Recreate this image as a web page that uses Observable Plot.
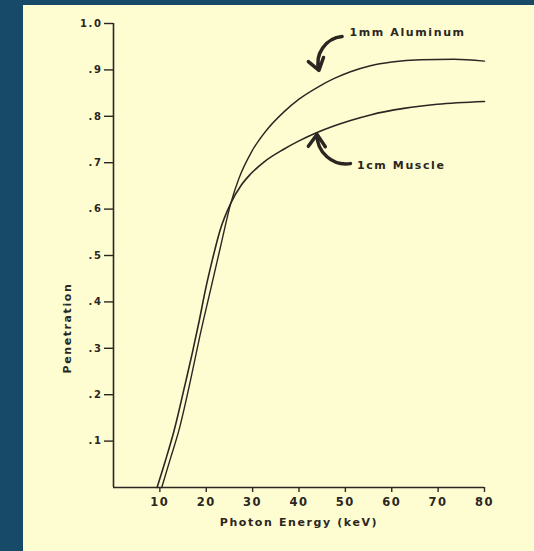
<!DOCTYPE html>
<html><head><meta charset="utf-8">
<script src="https://cdn.jsdelivr.net/npm/d3@7"></script>
<script src="https://cdn.jsdelivr.net/npm/@observablehq/plot@0.6"></script>
<style>
html,body{margin:0;padding:0;background:#164a68;width:534px;height:551px;overflow:hidden}
#panel{position:absolute;left:23px;top:5px;width:511px;height:546px;background:#fefdd1}
#panel svg text{letter-spacing:1.6px}
</style></head><body><div id="panel"></div>
<script>
// 1 mm Aluminum
const alEnergy = [10.4, 12.2, 14.1, 16.6, 18.7, 20.9, 23.1, 25.3, 27.0, 29.8, 33.0, 36.7, 40.0, 43.9, 47.5, 51.1, 55.4, 60.0, 66.2, 73.4, 80.0];
const alPen    = [0, 0.06, 0.123, 0.231, 0.33, 0.425, 0.52, 0.613, 0.665, 0.724, 0.770, 0.809, 0.837, 0.862, 0.881, 0.896, 0.909, 0.917, 0.922, 0.923, 0.919];
// 1 cm Muscle
const muEnergy = [9.4, 11.2, 13.0, 15.5, 17.0, 18.5, 19.8, 21.3, 23.0, 25.3, 27.5, 29.5, 32.5, 36.7, 40.0, 43.9, 47.5, 51.1, 55.4, 62.6, 69.8, 80.0];
const muPen    = [0, 0.058, 0.12, 0.225, 0.29, 0.36, 0.425, 0.49, 0.555, 0.613, 0.651, 0.675, 0.702, 0.729, 0.747, 0.765, 0.779, 0.791, 0.803, 0.817, 0.826, 0.832];

const xTicks = [10, 20, 30, 40, 50, 60, 70, 80];
const yTicks = [0.1, 0.2, 0.3, 0.4, 0.5, 0.6, 0.7, 0.8, 0.9, 1.0];
const yTickLabels = [".1", ".2", ".3", ".4", ".5", ".6", ".7", ".8", ".9", "1.0"];

const seriesNames = ["1mm Aluminum", "1cm Muscle"];
const labelX = [50.9, 52.5];
const labelY = [0.981, 0.694];
const arrowTailX = [49.3, 51.1];
const arrowTailY = [0.972, 0.698];
const arrowHeadX = [44.3, 43.9];
const arrowHeadY = [0.899, 0.761];
const arrowBend = [-50, 50];

const ink = "#2b2622";
const al = alEnergy.map((x, i) => ({x, y: alPen[i]}));
const mu = muEnergy.map((x, i) => ({x, y: muPen[i]}));
const labels = seriesNames.map((t, i) => ({t, x: labelX[i], y: labelY[i]}));
const arrowMarks = seriesNames.map((t, i) => Plot.arrow([{x1: arrowTailX[i], y1: arrowTailY[i], x2: arrowHeadX[i], y2: arrowHeadY[i]}],
  {x1: "x1", y1: "y1", x2: "x2", y2: "y2", bend: arrowBend[i], stroke: ink, strokeWidth: 3.5, headLength: 9, headAngle: 70}));

const chart = Plot.plot({
  width: 511, height: 546,
  marginTop: 18, marginLeft: 90, marginRight: 50, marginBottom: 64,
  style: {background: "transparent", fontFamily: "DejaVu Sans", color: ink},
  x: {domain: [0, 80]},
  y: {domain: [0, 1]},
  marks: [
    Plot.ruleX([0], {y1: 0, y2: 1, stroke: ink, strokeWidth: 1.6}),
    Plot.ruleY([0], {x1: 0, x2: 80, stroke: ink, strokeWidth: 1.6}),
    Plot.axisY({ticks: yTicks, tickSize: 9, tickPadding: 2, tickFormat: (d, i) => yTickLabels[i],
      fontSize: 10, fontWeight: "bold", stroke: ink, strokeWidth: 1.4, label: null}),
    Plot.axisX({ticks: xTicks, tickSize: 5, tickPadding: 5, tickFormat: d => String(d),
      fontSize: 11.5, fontWeight: "bold", strokeWidth: 1.4, label: null}),
    Plot.text(["Photon Energy (keV)"], {frameAnchor: "bottom", dy: 38, fontSize: 11, fontWeight: "bold", fill: ink}),
    Plot.text(["Penetration"], {frameAnchor: "left", rotate: -90, dx: -46, dy: 118, fontSize: 11, fontWeight: "bold", fill: ink}),
    Plot.line(al, {x: "x", y: "y", curve: "monotone-x", stroke: ink, strokeWidth: 1.4}),
    Plot.line(mu, {x: "x", y: "y", curve: "monotone-x", stroke: ink, strokeWidth: 1.6}),
    ...arrowMarks,
    Plot.text(labels, {x: "x", y: "y", text: "t", textAnchor: "start", fontSize: 11, fontWeight: "bold", fill: ink})
  ]
});
document.getElementById("panel").appendChild(chart);
</script>
</body></html>
